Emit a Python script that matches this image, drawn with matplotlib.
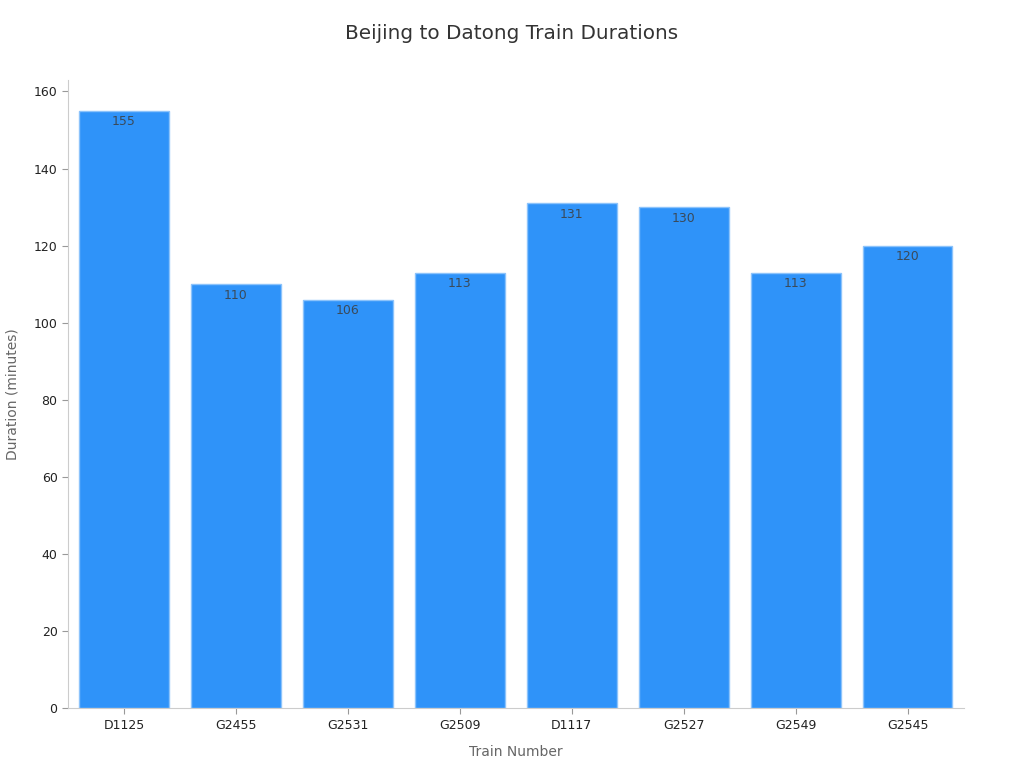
import matplotlib
matplotlib.use("Agg")
import matplotlib.pyplot as plt

trains = ["D1125", "G2455", "G2531", "G2509", "D1117", "G2527", "G2549", "G2545"]
durations = [155, 110, 106, 113, 131, 130, 113, 120]

fig = plt.figure(figsize=(10.24, 7.68), dpi=100)
ax = fig.add_axes([0.0664, 0.078, 0.8747, 0.818])

bars = ax.bar(range(len(trains)), durations, width=0.8, color="#2f93f9",
              edgecolor="#8cc3fb", linewidth=1)
for b, v in zip(bars, durations):
    ax.text(b.get_x() + b.get_width() / 2, v - 1.2, str(v), ha="center", va="top",
            fontsize=9, color="#3a4a5a")

ax.set_xticks(range(len(trains)))
ax.set_xticklabels(trains)
ax.set_xlim(-0.5, len(trains) - 0.5)
ax.set_ylim(0, 163)
ax.set_yticks(range(0, 161, 20))
ax.tick_params(labelsize=9, colors="#222222", length=4)
ax.tick_params(axis="both", color="#999999")

for s in ["top", "right"]:
    ax.spines[s].set_visible(False)
for s in ["left", "bottom"]:
    ax.spines[s].set_color("#cccccc")

ax.set_xlabel("Train Number", fontsize=10, color="#666666", labelpad=10)
ax.set_ylabel("Duration (minutes)", fontsize=10, color="#666666", labelpad=10)
fig.suptitle("Beijing to Datong Train Durations", fontsize=14.4, color="#333333",
             y=0.957, va="center")

fig.savefig("out.png", dpi=100)
